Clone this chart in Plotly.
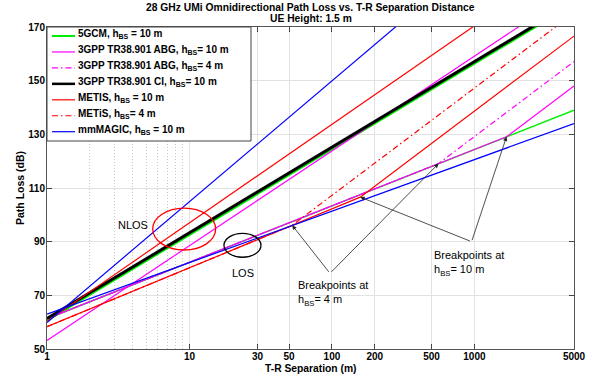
import math
import plotly.graph_objects as go

# ---------------- data ----------------
# 5GCM, hBS = 10 m
gcm_nlos_d = [1, 5000]
gcm_nlos_pl = [60.6, 178.6]
gcm_los_d = [1, 5000]
gcm_los_pl = [61.3, 139.0]

# 3GPP TR38.901 ABG (NLOS shared by both heights)
abg_nlos_d = [1, 5000]
abg_nlos_pl = [53.2, 183.8]
abg10_los_d = [1, 1680, 5000]
abg10_los_pl = [61.3, 129.1, 148.0]
abg4_los_d = [1, 560, 5000]
abg4_los_pl = [61.3, 119.1, 157.1]

# 3GPP TR38.901 CI, hBS = 10 m
ci_d = [1, 5000]
ci_pl = [61.4, 179.4]

# METIS (NLOS shared by both heights)
metis_nlos_d = [1, 5000]
metis_nlos_pl = [60.3, 196.1]
metis10_los_d = [1, 158, 5000]
metis10_los_pl = [58.3, 106.6, 166.6]
metis4_los_d = [1, 52.6, 5000]
metis4_los_pl = [58.3, 96.1, 175.2]

# mmMAGIC, hBS = 10 m
mm_nlos_d = [1, 5000]
mm_nlos_pl = [59.9, 226.4]
mm_los_d = [1, 5000]
mm_los_pl = [63.0, 134.0]

x_tickvals = [1, 10, 30, 50, 100, 200, 500, 1000, 5000]
x_ticktext = ["1", "10", "30", "50", "100", "200", "500", "1000", "5000"]
x_minor_vals = [2, 3, 4, 5, 6, 7, 8, 9]
y_tickvals = [50, 70, 90, 110, 130, 150, 170]

legend_labels = [
    "5GCM, h<sub>BS</sub> = 10 m",
    "3GPP TR38.901 ABG, h<sub>BS</sub>= 10 m",
    "3GPP TR38.901 ABG, h<sub>BS</sub>= 4 m",
    "3GPP TR38.901 CI, h<sub>BS</sub>= 10 m",
    "METIS, h<sub>BS</sub> = 10 m",
    "METiS, h<sub>BS</sub>= 4 m",
    "mmMAGIC, h<sub>BS</sub> = 10 m",
]

# ---------------- styles ----------------
GREEN, MAG, BLACK, RED, BLUE = "#00ee00", "#ff00ff", "#000000", "#ff0000", "#0000ff"
DASHDOT = "6px,3px,1.5px,3px"
legend_styles = [
    (GREEN, 2, "solid"),
    (MAG, 1.2, "solid"),
    (MAG, 1.2, DASHDOT),
    (BLACK, 3, "solid"),
    (RED, 1.2, "solid"),
    (RED, 1.2, DASHDOT),
    (BLUE, 1.2, "solid"),
]
FONT = "Liberation Sans, Arial, Helvetica, sans-serif"

fig = go.Figure()


def add(d, pl, color, width, dash="solid", name=None):
    fig.add_trace(go.Scatter(x=d, y=pl, mode="lines", name=name,
                             line=dict(color=color, width=width, dash=dash),
                             showlegend=False, hoverinfo="skip"))


add(gcm_nlos_d, gcm_nlos_pl, GREEN, 2, name="5GCM NLOS")
add(gcm_los_d, gcm_los_pl, GREEN, 1.5, name="5GCM LOS")
add(abg_nlos_d, abg_nlos_pl, MAG, 1.2, name="ABG NLOS")
add(abg4_los_d, abg4_los_pl, MAG, 1.2, DASHDOT, name="ABG 4 m LOS")
add(abg10_los_d, abg10_los_pl, MAG, 1.2, name="ABG 10 m LOS")
add(ci_d, ci_pl, BLACK, 3, name="CI")
add(metis_nlos_d, metis_nlos_pl, RED, 1.2, name="METIS NLOS")
add(metis4_los_d, metis4_los_pl, RED, 1.2, DASHDOT, name="METIS 4 m LOS")
add(metis10_los_d, metis10_los_pl, RED, 1.2, name="METIS 10 m LOS")
add(mm_nlos_d, mm_nlos_pl, BLUE, 1.2, name="mmMAGIC NLOS")
add(mm_los_d, mm_los_pl, BLUE, 1.2, name="mmMAGIC LOS")

# ---------------- geometry helpers (pixel -> paper) ----------------
W, H = 600, 381
ML, MR, MT, MB = 47, 26, 27, 32
PW, PH = W - ML - MR, H - MT - MB


def fx(px):
    return (px - ML) / PW


def fy(py):
    return (H - MB - py) / PH


shapes = []
annotations = []

# custom legend
shapes.append(dict(type="rect", xref="paper", yref="paper",
                   x0=fx(47), x1=fx(251), y0=fy(141), y1=fy(27),
                   line=dict(color="#444", width=1), fillcolor="white", layer="above"))
for i, (lab, (c, w, dsh)) in enumerate(zip(legend_labels, legend_styles)):
    yl = 36 + 15.95 * i
    shapes.append(dict(type="line", xref="paper", yref="paper",
                       x0=fx(52), x1=fx(75), y0=fy(yl), y1=fy(yl),
                       line=dict(color=c, width=min(w, 2.5), dash=dsh), layer="above"))
    annotations.append(dict(xref="paper", yref="paper", x=fx(75.5), y=fy(yl - 2),
                            text="<b>" + lab + "</b>", showarrow=False,
                            xanchor="left", yanchor="middle",
                            font=dict(family=FONT, size=10, color="black")))

# ellipses
shapes.append(dict(type="circle", xref="x", yref="y", x0=5.52, x1=15.27, y0=86.9, y1=102.5,
                   line=dict(color=RED, width=1.3)))
shapes.append(dict(type="circle", xref="x", yref="y", x0=17.46, x1=31.76, y0=84.2, y1=93.1,
                   line=dict(color=BLACK, width=1.3)))

# title
annotations.append(dict(xref="paper", yref="paper", x=0.5, y=fy(7.3), showarrow=False,
                        text="<b>28 GHz UMi Omnidirectional Path Loss vs. T-R Separation Distance</b>",
                        xanchor="center", yanchor="middle",
                        font=dict(family=FONT, size=10.3, color="black")))
annotations.append(dict(xref="paper", yref="paper", x=0.5, y=fy(18.6), showarrow=False,
                        text="<b>UE Height: 1.5 m</b>", xanchor="center", yanchor="middle",
                        font=dict(family=FONT, size=10.3, color="black")))
# axis titles
annotations.append(dict(xref="paper", yref="paper", x=0.5, y=fy(368), showarrow=False,
                        text="<b>T-R Separation (m)</b>", xanchor="center", yanchor="middle",
                        font=dict(family=FONT, size=10.3, color="black")))
annotations.append(dict(xref="paper", yref="paper", x=fx(20), y=0.5, showarrow=False,
                        text="<b>Path Loss (dB)</b>", textangle=-90,
                        xanchor="center", yanchor="middle",
                        font=dict(family=FONT, size=10.5, color="black")))

# text labels
tfont = dict(family=FONT, size=11, color="black")
annotations.append(dict(xref="paper", yref="paper", x=fx(133), y=fy(225), text="NLOS",
                        showarrow=False, xanchor="center", yanchor="middle", font=tfont))
annotations.append(dict(xref="paper", yref="paper", x=fx(243), y=fy(272.5), text="LOS",
                        showarrow=False, xanchor="center", yanchor="middle", font=tfont))
annotations.append(dict(xref="paper", yref="paper", x=fx(296), y=fy(277),
                        text="Breakpoints at<br>h<sub>BS</sub>= 4 m", align="left",
                        showarrow=False, xanchor="left", yanchor="top", font=tfont))
annotations.append(dict(xref="paper", yref="paper", x=fx(432), y=fy(247),
                        text="Breakpoints at<br>h<sub>BS</sub>= 10 m", align="left",
                        showarrow=False, xanchor="left", yanchor="top", font=tfont))

# arrows pointing at breakpoints (heads taken from the breakpoint data)
tail4 = (1.986, 78.2)
tail10 = (2.980, 90.0)
for (d, pl), tail in [((metis4_los_d[1], metis4_los_pl[1]), tail4),
                      ((abg4_los_d[1], abg4_los_pl[1]), tail4),
                      ((metis10_los_d[1], metis10_los_pl[1]), tail10),
                      ((abg10_los_d[1], abg10_los_pl[1]), tail10)]:
    annotations.append(dict(xref="x", yref="y", axref="x", ayref="y",
                            x=math.log10(d), y=pl, ax=tail[0], ay=tail[1], text="",
                            showarrow=True, arrowhead=2, arrowsize=1.1, arrowwidth=0.8,
                            arrowcolor="#222", standoff=0))

fig.update_layout(
    width=W, height=H,
    margin=dict(l=ML, r=MR, t=MT, b=MB, pad=0),
    paper_bgcolor="white", plot_bgcolor="white",
    showlegend=False,
    shapes=shapes, annotations=annotations,
    font=dict(family=FONT, size=10, color="black"),
)
fig.update_xaxes(type="log", range=[0, math.log10(5000)],
                 tickmode="array", tickvals=x_tickvals, ticktext=x_ticktext,
                 ticks="inside", ticklen=5, tickcolor="#444",
                 showline=True, linecolor="#555", linewidth=1, mirror="ticks",
                 showgrid=True, gridcolor="#e2e2e2", gridwidth=1, zeroline=False,
                 ticklabelstandoff=-2,
                 tickfont=dict(family=FONT, size=10, color="black", weight="bold"),
                 minor=dict(tickmode="array", tickvals=x_minor_vals, showgrid=True,
                            gridcolor="#c8c8c8", griddash="1px,2px", gridwidth=1, ticks=""))
fig.update_yaxes(range=[50, 170], tickmode="array", tickvals=y_tickvals,
                 ticks="inside", ticklen=5, tickcolor="#444",
                 showline=True, linecolor="#555", linewidth=1, mirror="ticks",
                 showgrid=True, gridcolor="#e2e2e2", gridwidth=1, zeroline=False,
                 ticklabelstandoff=-1,
                 tickfont=dict(family=FONT, size=10, color="black", weight="bold"))

fig.write_html("out.html", config={"displayModeBar": False, "staticPlot": True},
               post_script="document.body.style.margin='0px';document.body.style.overflow='hidden';")
